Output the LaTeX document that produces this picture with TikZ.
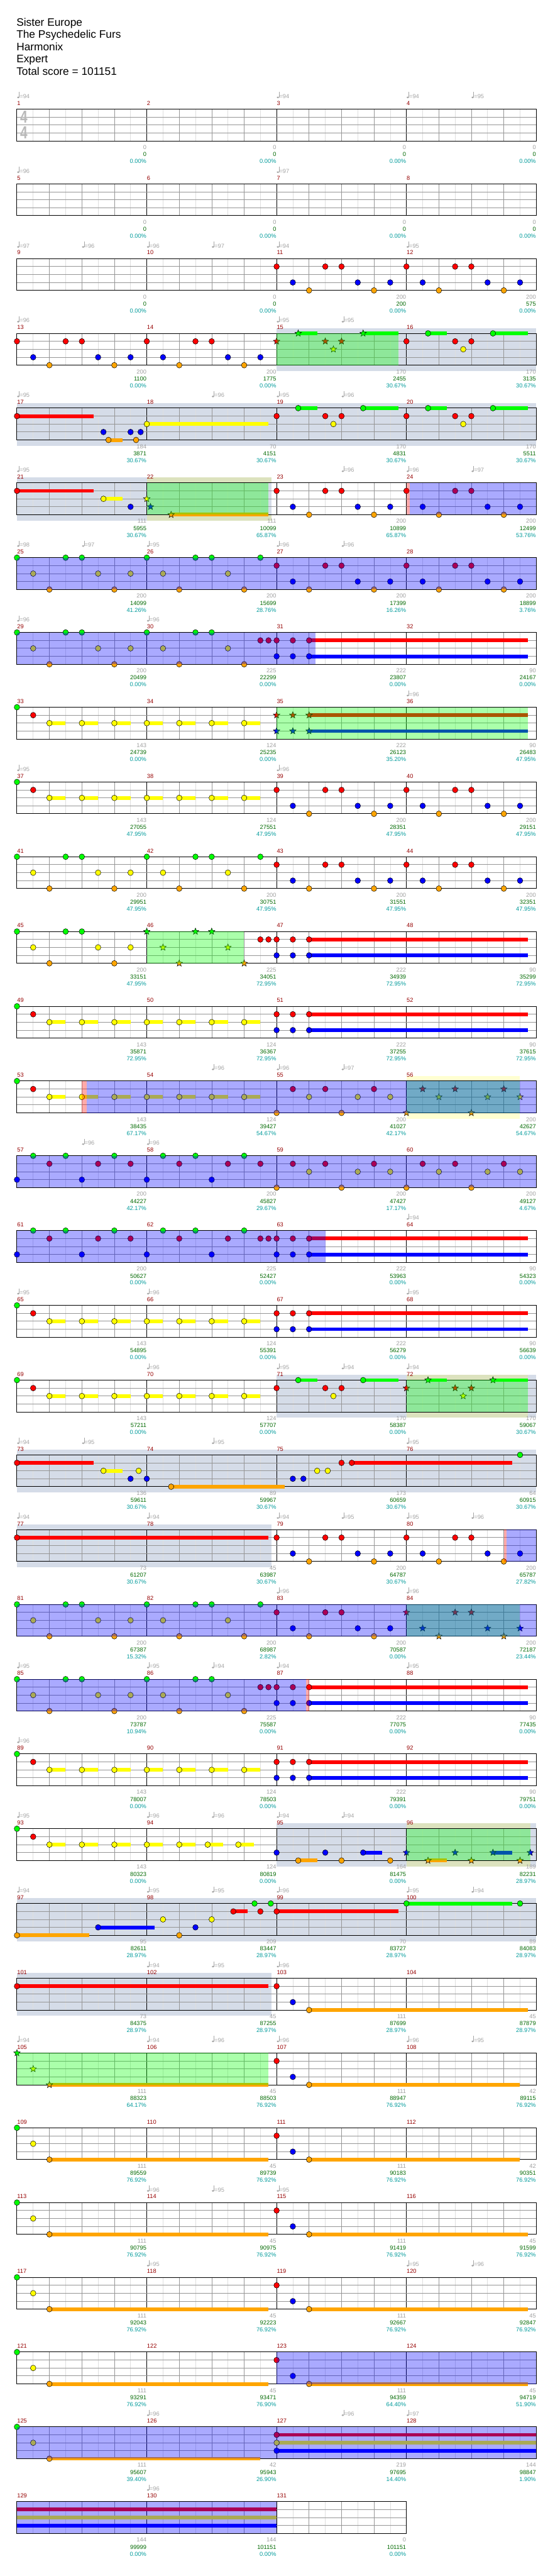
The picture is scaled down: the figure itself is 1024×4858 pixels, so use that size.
\documentclass[tikz,border=0pt]{standalone}
\usepackage{fontspec}
\setmainfont{Liberation Sans}
\usetikzlibrary{positioning}

\definecolor{lane0}{RGB}{0,255,0}
\definecolor{lane1}{RGB}{255,0,0}
\definecolor{lane2}{RGB}{255,255,0}
\definecolor{lane3}{RGB}{0,0,255}
\definecolor{lane4}{RGB}{255,165,0}
\definecolor{solo}{RGB}{213,220,232}
\definecolor{mred}{RGB}{150,0,0}
\definecolor{numgray}{RGB}{160,160,160}
\definecolor{scoregreen}{RGB}{0,105,0}
\definecolor{pctteal}{RGB}{0,155,155}
\definecolor{tempogray}{RGB}{165,165,165}
\definecolor{sigray}{RGB}{185,185,185}
\definecolor{beatgray}{RGB}{150,150,150}
\definecolor{eighthgray}{RGB}{222,222,222}
\definecolor{lanegray}{RGB}{150,150,150}

% current row and lane helpers
\newif\ifsp
\newcommand\setrow[1]{\def\rowid{#1}\pgfmathsetmacro\rowtop{205.7+141*#1}}
\newcommand\xpos[1]{32+30.625*(#1)}
\newcommand\spnote[2]{%
  \pgfmathsetmacro\sx{\xpos{#1}}\pgfmathsetmacro\sy{\rowtop+15*(#2)}%
  \filldraw[noteline, fill=lane#2] ([shift={(\sx,\sy)}]90:6.5pt)
    \foreach \k [evaluate=\k as \kr using {ifthenelse(mod(\k,2)==1,2.8,6.5)}] in {1,...,9}
      { -- ([shift={(\sx,\sy)}]{90+36*\k}:\kr pt)} -- cycle;}
\newcommand\hit[2]{\ifsp\spnote{#1}{#2}\else
  \filldraw[noteline, fill=lane#2] ({\xpos{#1}},{\rowtop+15*(#2)}) ellipse (5.2pt and 5.4pt);\fi}
\newcommand\sus[3]{\fill[lane#1] ({\xpos{#2}},{\rowtop+15*(#1)-3.5}) rectangle ({\xpos{#3}},{\rowtop+15*(#1)+3.5});}
\newcommand\hits[2]{\foreach \q in {#2}{\hit{\q}{#1}}}
\newcommand\hitso[3]{\foreach \q in {#3}{\hit{#2+\q}{#1}}}

% bands and overlays
\newcommand\soloband[2]{\fill[solo] ({\xpos{#1}},{\rowtop-10}) rectangle ({\xpos{#2}},{\rowtop+71});}
\newcommand\yband[2]{%
  \fill[lane2, opacity=.18] ({\xpos{#1}},{\rowtop-10}) rectangle ({\xpos{#2}},{\rowtop});
  \fill[lane2, opacity=.18] ({\xpos{#1}},{\rowtop+60}) rectangle ({\xpos{#2}},{\rowtop+71});}
\newcommand\overlay[3]{\fill[#1, opacity=.333] ({\xpos{#2}},{\rowtop}) rectangle ({\xpos{#3}},{\rowtop+60});}

% staff grid
\newcommand\staff[1]{%
  \pgfmathtruncatemacro\np{8*#1}\pgfmathsetmacro\xe{32+245*#1}%
  \foreach \q in {1,3,...,\np}{\draw[eighth] ({\xpos{\q}},{\rowtop}) -- ({\xpos{\q}},{\rowtop+60});}
  \foreach \q in {2,4,...,\np}{\draw[beat] ({\xpos{\q}},{\rowtop}) -- ({\xpos{\q}},{\rowtop+60});}
  \foreach \q in {8,16,...,\np}{\draw[bar] ({\xpos{\q}},{\rowtop}) -- ({\xpos{\q}},{\rowtop+60});}
  \foreach \l in {1,2,3}{\draw[lanel] (32,{\rowtop+15*\l}) -- (\xe,{\rowtop+15*\l});}
  \draw[border] (32,\rowtop) rectangle (\xe,{\rowtop+60});}

% tempo marks and numbers
\newcommand\tempomark[2]{%
  \fill[tempogray] ({\xpos{#1}+2.4},{\rowtop-22}) ellipse (2.3pt and 1.7pt);
  \draw[tempogray, line width=0.6pt] ({\xpos{#1}+4.4},{\rowtop-22}) -- ({\xpos{#1}+4.4},{\rowtop-32});
  \node[tempotxt] (tempo-\rowid-#1) at ({\xpos{#1}+5},{\rowtop-20.4}) {=#2};}
\newcommand\tempos[1]{\foreach \p/\v in {#1}{\tempomark{\p}{\v}}}
\newcommand\barnums[4]{%
  \foreach \v [count=\i from 0] in {#2}{\pgfmathtruncatemacro\mi{4*#1+\i+1}%
    \node[graynum] (pts-\mi) at ({32+245*(\i+1)-0.5},{205.7+141*#1+76}) {\v};}
  \foreach \v [count=\i from 0] in {#3}{\pgfmathtruncatemacro\mi{4*#1+\i+1}%
    \node[scorenum] (score-\mi) at ({32+245*(\i+1)-0.5},{205.7+141*#1+89.3}) {\v};}
  \foreach \v [count=\i from 0] in {#4}{\pgfmathtruncatemacro\mi{4*#1+\i+1}%
    \node[pctnum] (pct-\mi) at ({32+245*(\i+1)-0.5},{205.7+141*#1+102.3}) {\v\%};}}

% note patterns (offsets in eighths)
\newcommand\patA[1]{\hitso{1}{#1}{0,3,4}\hitso{3}{#1}{1,5,7}\hitso{4}{#1}{2,6}}
\newcommand\patB[1]{\hitso{0}{#1}{0,3,4}\hitso{2}{#1}{1,5}\hitso{4}{#1}{2,6}}
\newcommand\patC{\hit{0}{0}\hit{1}{1}\foreach \q in {2,4,...,14}{\sus{2}{\q}{\q+1}\hit{\q}{2}}}
\newcommand\patD{\sus{1}{18}{31.5}\sus{3}{18}{31.5}\hits{1}{16,17,18}\hits{3}{16,17,18}}
\newcommand\patE{\hits{1}{15,15.5}\patD}
\newcommand\patF[1]{\hitso{4}{#1}{0,4}\hitso{1}{#1}{1,3,6}\hitso{2}{#1}{2,5,7}}
\newcommand\patG{\hits{3}{0,4,8,12}\hits{0}{1,3,6,9,11,14}\hits{1}{2,5,7,10,13,15}}
\newcommand\patH[1]{\sus{0}{#1+1.33}{#1+2.5}\sus{0}{#1+5.33}{#1+7.5}\hitso{1}{#1}{0,3,4}\hit{#1+3.5}{2}\hitso{0}{#1}{1.33,5.33}}
\newcommand\patI[1]{\sus{4}{2}{15.5}\sus{4}{18}{#1}\hit{0}{0}\hit{1}{2}\hit{2}{4}\hit{16}{1}\hit{17}{3}\hit{18}{4}}

\begin{document}
\begin{tikzpicture}[x=1pt, y=-1pt,
  txt/.style={inner sep=0pt, font=\fontsize{11}{13}\selectfont},
  titletxt/.style={inner sep=0pt, anchor=base west, font=\fontsize{20.5}{24}\selectfont},
  mnum/.style={txt, anchor=base west, text=mred},
  graynum/.style={txt, anchor=base east, text=numgray},
  scorenum/.style={txt, anchor=base east, text=scoregreen},
  pctnum/.style={txt, anchor=base east, text=pctteal},
  tempotxt/.style={txt, anchor=base west, text=tempogray},
  timesig/.style={inner sep=0pt, text=sigray, font=\fontsize{33}{33}\selectfont\bfseries, xscale=0.75},
  noteline/.style={draw=black, line width=0.6pt},
  eighth/.style={draw=eighthgray, line width=0.8pt},
  beat/.style={draw=beatgray, line width=0.8pt},
  bar/.style={draw=black, line width=0.8pt},
  lanel/.style={draw=lanegray, line width=1.1pt},
  border/.style={draw=black, line width=1.2pt}
]
\useasboundingbox (0,0) rectangle (1024,4858);
\fill[white] (0,0) rectangle (1024,4858);

% Header
\node[titletxt] (song)   at (31,49)    {Sister Europe};
\node[titletxt] (artist) at (31,72.2)  {The Psychedelic Furs};
\node[titletxt] (author) at (31,95.4)  {Harmonix};
\node[titletxt] (diff)   at (31,118.6) {Expert};
\node[titletxt] (total)  at (31,141.8) {Total score = 101151};

% Row 1: bars 1-4
\setrow{0}\staff{4}
\node[timesig] (sig-top) at (45,{\rowtop+14.6}) {4};
\node[timesig] (sig-bot) at (45,{\rowtop+44.3}) {4};
\tempos{0/94,16/94,24/94,28/95}
\barnums{0}{0,0,0,0}{0,0,0,0}{0.00,0.00,0.00,0.00}

% Row 2: bars 5-8
\setrow{1}\staff{4}
\tempos{0/96,16/97}
\barnums{1}{0,0,0,0}{0,0,0,0}{0.00,0.00,0.00,0.00}

% Row 3: bars 9-12
\setrow{2}\staff{4}
\patA{16}\patA{24}
\tempos{0/97,4/96,8/96,12/97,16/94,24/95}
\barnums{2}{0,0,200,200}{0,0,200,575}{0.00,0.00,0.00,0.00}

% Row 4: bars 13-16
\setrow{3}\soloband{16}{32}\staff{4}
\patA{0}\patA{8}\sptrue\patH{16}\spfalse\patH{24}
\overlay{lane0}{16}{23.5}
\tempos{0/96,16/95,20/95}
\barnums{3}{200,200,170,170}{1100,1775,2455,3135}{0.00,0.00,30.67,30.67}

% Row 5: bars 17-20
\setrow{4}\soloband{0}{32}\staff{4}
\sus{1}{0}{4.73}\hit{0}{1}\sus{4}{5.64}{6.5}\hits{3}{5.33,7,7.62}\hits{4}{5.64,7.34}
\sus{2}{8}{15.5}\hit{8}{2}\patH{16}\patH{24}
\tempos{0/95,12/96,16/95,20/96}
\barnums{4}{184,70,170,170}{3871,4151,4831,5511}{30.67,30.67,30.67,30.67}

% Row 6: bars 21-24
\setrow{5}\soloband{0}{15.7}\yband{8}{15.7}\staff{4}
\sus{1}{0}{4.73}\hit{0}{1}\sus{2}{5.33}{6.5}\hit{5.33}{2}\hit{7}{3}
\sptrue\hit{8}{2}\hit{8.23}{3}\sus{4}{9.5}{15.5}\hit{9.5}{4}\spfalse
\patA{16}\patA{24}
\overlay{lane0}{8}{15.5}\overlay{lane1}{24}{24.2}\overlay{lane3}{24.2}{32}
\tempos{0/95,20/96,24/96,28/97}
\barnums{5}{111,111,200,200}{5955,10099,10899,12499}{30.67,65.87,65.87,53.76}

% Row 7: bars 25-28
\setrow{6}\staff{4}
\patB{0}\hit{7}{2}\patB{8}\hit{15}{0}\patA{16}\patA{24}
\overlay{lane3}{0}{32}
\tempos{0/98,4/97,8/95,16/96,20/96}
\barnums{6}{200,200,200,200}{14099,15699,17399,18899}{41.26,28.76,16.26,3.76}

% Row 8: bars 29-32
\setrow{7}\staff{4}
\patB{0}\hit{7}{2}\patB{8}\patE
\overlay{lane3}{0}{18.4}
\tempos{0/96,8/96}
\barnums{7}{200,225,222,90}{20499,22299,23807,24167}{0.00,0.00,0.00,0.00}

% Row 9: bars 33-36
\setrow{8}\staff{4}
\patC\sptrue\patD\spfalse
\overlay{lane0}{16}{31.5}
\tempos{24/96}
\barnums{8}{143,124,222,90}{24739,25235,26123,26483}{0.00,0.00,35.20,47.95}

% Row 10: bars 37-40
\setrow{9}\staff{4}
\patC\patA{16}\patA{24}
\tempos{0/95,16/96}
\barnums{9}{143,124,200,200}{27055,27551,28351,29151}{47.95,47.95,47.95,47.95}

% Row 11: bars 41-44
\setrow{10}\staff{4}
\patB{0}\hit{7}{2}\patB{8}\hit{15}{0}\patA{16}\patA{24}
\barnums{10}{200,200,200,200}{29951,30751,31551,32351}{47.95,47.95,47.95,47.95}

% Row 12: bars 45-48
\setrow{11}\staff{4}
\patB{0}\hit{7}{2}\sptrue\patB{8}\spfalse\patE
\overlay{lane0}{8}{14}
\barnums{11}{200,225,222,90}{33151,34051,34939,35299}{47.95,72.95,72.95,72.95}

% Row 13: bars 49-52
\setrow{12}\staff{4}
\patC\patD
\barnums{12}{143,124,222,90}{35871,36367,37255,37615}{72.95,72.95,72.95,72.95}

% Row 14: bars 53-56
\setrow{13}\yband{24}{31}\staff{4}
\patC\patF{16}\sptrue\patF{24}\spfalse
\overlay{lane0}{24}{31}\overlay{lane1}{4}{4.29}\overlay{lane3}{4.29}{32}
\tempos{12/96,16/96,20/97}
\barnums{13}{143,124,200,200}{38435,39427,41027,42627}{67.17,54.67,42.17,54.67}

% Row 15: bars 57-60
\setrow{14}\staff{4}
\patG\patF{16}\patF{24}
\overlay{lane3}{0}{32}
\tempos{4/96,8/96}
\barnums{14}{200,200,200,200}{44227,45827,47427,49127}{42.17,29.67,17.17,4.67}

% Row 16: bars 61-64
\setrow{15}\staff{4}
\patG\hit{15.5}{1}\patD
\overlay{lane3}{0}{19}
\tempos{24/94}
\barnums{15}{200,225,222,90}{50627,52427,53963,54323}{0.00,0.00,0.00,0.00}

% Row 17: bars 65-68
\setrow{16}\staff{4}
\patC\patD
\tempos{0/95,8/96,24/95}
\barnums{16}{143,124,222,90}{54895,55391,56279,56639}{0.00,0.00,0.00,0.00}

% Row 18: bars 69-72
\setrow{17}\soloband{16}{32}\yband{24}{31.5}\staff{4}
\patC\patH{16}\sptrue\patH{24}\spfalse
\overlay{lane0}{24}{31.5}
\tempos{8/96,16/95,20/94,24/94}
\barnums{17}{143,124,170,170}{57211,57707,58387,59067}{0.00,0.00,0.00,30.67}

% Row 19: bars 73-76
\setrow{18}\soloband{0}{32}\staff{4}
\sus{1}{0}{4.73}\hit{0}{1}\sus{2}{5.33}{6.5}\hits{2}{5.33,7.5}\hits{3}{7,8}
\sus{4}{9.5}{16.5}\hit{9.5}{4}\hits{3}{17,17.65}\hits{2}{18.5,19.15}
\sus{1}{20.63}{30.52}\hits{1}{20,20.63}\hit{31}{0}
\tempos{0/94,4/95,12/95,24/95}
\barnums{18}{136,89,173,64}{59611,59967,60659,60915}{30.67,30.67,30.67,30.67}

% Row 20: bars 77-80
\setrow{19}\soloband{0}{15.7}\staff{4}
\sus{1}{0}{15.5}\hit{0}{1}\patA{16}\patA{24}
\overlay{lane1}{30}{30.15}\overlay{lane3}{30.15}{32}
\tempos{0/94,8/94,16/94,20/95,24/95,28/96}
\barnums{19}{73,45,200,200}{61207,63987,64787,65787}{30.67,30.67,30.67,27.82}

% Row 21: bars 81-84
\setrow{20}\staff{4}
\patB{0}\hit{7}{2}\patB{8}\hit{15}{0}\patA{16}\sptrue\patA{24}\spfalse
\overlay{lane0}{24}{31}\overlay{lane3}{0}{32}
\tempos{16/96,24/96}
\barnums{20}{200,200,200,200}{67387,68987,70587,72187}{15.32,2.82,0.00,23.44}

% Row 22: bars 85-88
\setrow{21}\staff{4}
\patB{0}\hit{7}{2}\patB{8}\patE
\overlay{lane3}{0}{17.8}\overlay{lane1}{17.8}{18}
\tempos{0/95,8/95,12/94,16/94,24/95}
\barnums{21}{200,225,222,90}{73787,75587,77075,77435}{10.94,0.00,0.00,0.00}

% Row 23: bars 89-92
\setrow{22}\staff{4}
\patC\patD
\tempos{0/96}
\barnums{22}{143,124,222,90}{78007,78503,79391,79751}{0.00,0.00,0.00,0.00}

% Row 24: bars 93-96
\setrow{23}\soloband{16}{32}\yband{24}{31.63}\staff{4}
\hit{0}{0}\hit{1}{1}\foreach \q in {2,4,...,10}{\sus{2}{\q}{\q+1}\hit{\q}{2}}
\sus{2}{11.75}{12.7}\hit{11.75}{2}\sus{2}{13.64}{14.6}\hit{13.64}{2}
\sus{3}{21.33}{22.5}\hits{3}{16,19,21.33}\sus{4}{17.33}{18.5}\hits{4}{17.33,20,23}
\sptrue\sus{3}{29.33}{30.5}\hits{3}{24,27,29.33,31.63}\sus{4}{25.33}{26.5}\hits{4}{25.33,28,31}\spfalse
\overlay{lane0}{24}{31.63}
\tempos{0/95,8/96,12/96,16/94,20/94}
\barnums{23}{143,124,164,189}{80323,80819,81475,82231}{0.00,0.00,0.00,28.97}

% Row 25: bars 97-100
\setrow{24}\soloband{0}{32}\staff{4}
\sus{4}{0}{4.47}\hits{4}{0,10}\sus{3}{5}{8.5}\hits{3}{5,11}\hits{2}{9,12}
\sus{1}{13.33}{14.2}\sus{1}{16}{23.5}\hits{1}{13.33,15,16}
\sus{0}{24}{30.5}\hits{0}{14.64,15.64,24,31}
\tempos{0/94,8/95,12/95,16/96,24/95,28/94}
\barnums{24}{95,209,70,89}{82611,83447,83727,84083}{28.97,28.97,28.97,28.97}

% Row 26: bars 101-104
\setrow{25}\soloband{0}{15.7}\staff{4}
\sus{1}{0}{15.5}\hits{1}{0,16}\hit{17}{3}\sus{4}{18}{31.5}\hit{18}{4}
\tempos{8/94,12/95,16/96}
\barnums{25}{73,45,111,45}{84375,87255,87699,87879}{28.97,28.97,28.97,28.97}

% Row 27: bars 105-108
\setrow{26}\staff{4}
\sus{4}{2}{15.5}\sptrue\hit{0}{0}\hit{1}{2}\hit{2}{4}\spfalse
\sus{4}{18}{31}\hit{16}{1}\hit{17}{3}\hit{18}{4}
\overlay{lane0}{0}{15.5}
\tempos{0/94,8/94,12/96,16/96,24/96,28/95}
\barnums{26}{111,45,111,42}{88323,88503,88947,89115}{64.17,76.92,76.92,76.92}

% Row 28: bars 109-112
\setrow{27}\staff{4}
\patI{31}
\barnums{27}{111,45,111,42}{89559,89739,90183,90351}{76.92,76.92,76.92,76.92}

% Row 29: bars 113-116
\setrow{28}\staff{4}
\patI{31.5}
\tempos{8/96,12/95,16/95}
\barnums{28}{111,45,111,45}{90795,90975,91419,91599}{76.92,76.92,76.92,76.92}

% Row 30: bars 117-120
\setrow{29}\staff{4}
\patI{31.5}
\tempos{8/95,24/95,28/96}
\barnums{29}{111,45,111,45}{92043,92223,92667,92847}{76.92,76.92,76.92,76.92}

% Row 31: bars 121-124
\setrow{30}\staff{4}
\patI{31.5}
\overlay{lane3}{16}{32}
\barnums{30}{111,45,111,45}{93291,93471,94359,94719}{76.92,76.90,64.40,51.90}

% Row 32: bars 125-128
\setrow{31}\staff{4}
\sus{4}{2}{15}\hit{0}{0}\hit{1}{2}\hit{2}{4}
\foreach \l in {1,2,3}{\sus{\l}{16}{32}\hit{16}{\l}}
\overlay{lane3}{0}{32}
\tempos{8/96,20/96,24/97}
\barnums{31}{111,42,219,144}{95607,95943,97695,98847}{39.40,26.90,14.40,1.90}

% Row 33: bars 129-131
\setrow{32}\staff{3}
\foreach \l in {1,2,3}{\sus{\l}{0}{16}}
\overlay{lane3}{0}{16}
\tempos{8/96}
\barnums{32}{144,144,0}{99999,101151,101151}{0.00,0.00,0.00}

% Bar numbers
\foreach \m in {1,...,131}{%
  \pgfmathtruncatemacro\rr{floor((\m-1)/4)}%
  \pgfmathtruncatemacro\cc{\m-1-4*\rr}%
  \node[mnum] (bar-\m) at ({32+245*\cc+0.3},{205.7+141*\rr-7.4}) {\m};}
\end{tikzpicture}
\end{document}
